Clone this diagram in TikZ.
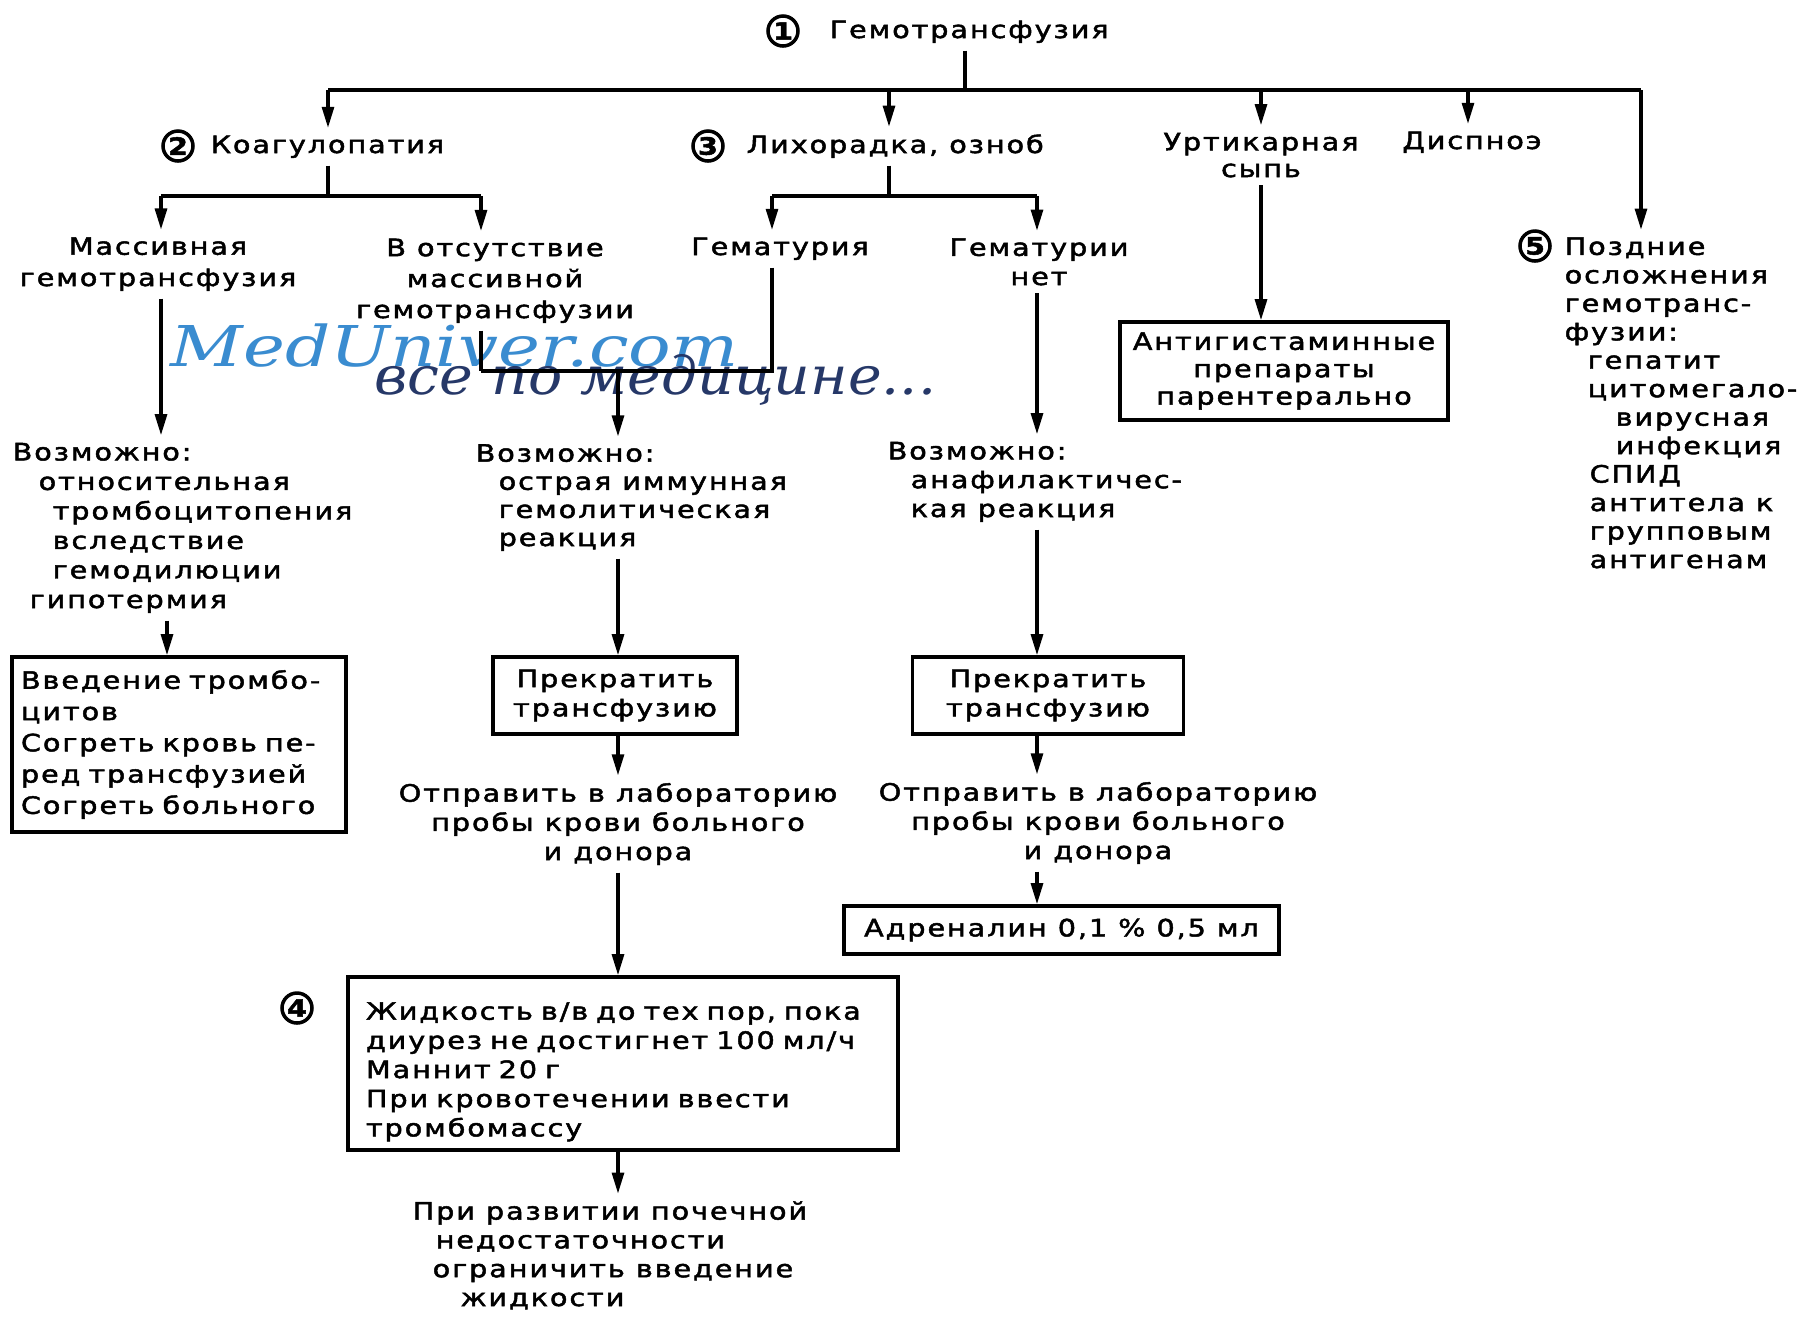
\documentclass[tikz,border=0pt]{standalone}
\usepackage{fontspec}
\usetikzlibrary{arrows.meta}
\newfontfamily\flowfont{DejaVu Sans}[FakeStretch=1.2,LetterSpace=8,FakeBold=2]
\newfontfamily\markfont{DejaVu Serif}[FakeStretch=1.26]
\newfontfamily\mottofont{DejaVu Serif}[FakeStretch=1.08]
\definecolor{markblue}{RGB}{58,140,208}
\definecolor{marknavy}{RGB}{38,56,104}
\begin{document}
\begin{tikzpicture}[
                every node/.style={font=\flowfont\fontsize{6.8}{8.3}\selectfont, inner xsep=0pt, inner ysep=2pt},
                leading/.style={font=\flowfont\fontsize{6.8}{#1}\selectfont},
                txt/.style={align=left, anchor=base west},
                ctr/.style={align=center, anchor=base},
                box/.style={draw, line width=1pt, inner xsep=3pt},
                num/.style={circle, draw, line width=1pt, inner sep=0pt, minimum size=0.30cm, font=\flowfont\bfseries\fontsize{6.8}{7}\selectfont},
                con/.style={line width=0.9pt},
                arr/.style={con, -{Triangle[length=6pt,width=3.4pt]}}]
                \useasboundingbox (0, 0) rectangle (18.06, -13.18);
                \node [font=\markfont\itshape\fontsize{16}{16}\selectfont, text=markblue, anchor=base west] (site) at (1.70, -3.66) {MedUniver.com};
                \node [font=\mottofont\itshape\fontsize{15}{15}\selectfont, text=marknavy, anchor=base west] (motto) at (3.74, -3.94) {все по медицине...};
                \node [num] (n1) at (7.83, -0.31) {1};
                \node [txt] (title) at (8.29, -0.38) {Гемотрансфузия};
                \node [num] (n2) at (1.78, -1.46) {2};
                \node [txt] (koag) at (2.10, -1.53) {Коагулопатия};
                \node [num] (n3) at (7.08, -1.46) {3};
                \node [txt] (fever) at (7.46, -1.53) {Лихорадка, озноб};
                \node [ctr, leading=7.6pt] (urt) at (12.61, -1.77) {Уртикарная\\сыпь};
                \node [ctr] (dysp) at (14.72, -1.49) {Диспноэ};
                \node [num] (n5) at (15.35, -2.46) {5};
                \node [txt, leading=8.1pt] (late) at (15.64, -5.68) {Поздние\\осложнения\\гемотранс-\\фузии:\\\hspace*{0.23cm}гепатит\\\hspace*{0.23cm}цитомегало-\\\hspace*{0.51cm}вирусная\\\hspace*{0.51cm}инфекция\\\hspace*{0.25cm}СПИД\\\hspace*{0.25cm}антитела к\\\hspace*{0.25cm}групповым\\\hspace*{0.25cm}антигенам};
                \node [ctr, leading=8.9pt] (mass) at (1.58, -2.86) {Массивная\\гемотрансфузия};
                \node [ctr, leading=8.8pt] (nomass) at (4.95, -3.18) {В отсутствие\\массивной\\гемотрансфузии};
                \node [ctr] (hemat) at (7.80, -2.55) {Гематурия};
                \node [ctr] (nohemat) at (10.39, -2.85) {Гематурии\\нет};
                \node [box, minimum width=3.28cm, minimum height=0.98cm, align=center, leading=7.8pt] (antih) at (12.84, -3.71) {Антигистаминные\\препараты\\парентерально};
                \node [txt, leading=8.4pt] (maybe1) at (0.12, -6.08) {Возможно:\\\hspace*{0.26cm}относительная\\\hspace*{0.40cm}тромбоцитопения\\\hspace*{0.40cm}вследствие\\\hspace*{0.40cm}гемодилюции\\\hspace*{0.17cm}гипотермия};
                \node [txt, leading=8pt] (maybe2) at (4.75, -5.46) {Возможно:\\\hspace*{0.23cm}острая иммунная\\\hspace*{0.23cm}гемолитическая\\\hspace*{0.23cm}реакция};
                \node [txt, leading=8.2pt] (maybe3) at (8.87, -5.17) {Возможно:\\\hspace*{0.23cm}анафилактичес-\\\hspace*{0.23cm}кая реакция};
                \node [box, minimum width=3.34cm, minimum height=1.75cm, inner xsep=0.09cm, text width=3.16cm, align=left, leading=8.9pt] (platelets) at (1.79, -7.445) {Введение тромбо-\\цитов\\Согреть кровь пе-\\ред трансфузией\\Согреть больного};
                \node [box, minimum width=2.44cm, minimum height=0.77cm, align=center] (stop2) at (6.15, -6.955) {Прекратить\\трансфузию};
                \node [box, minimum width=2.71cm, minimum height=0.77cm, align=center] (stop3) at (10.48, -6.955) {Прекратить\\трансфузию};
                \node [ctr] (lab2) at (6.18, -8.60) {Отправить в лабораторию\\пробы крови больного\\и донора};
                \node [ctr] (lab3) at (10.98, -8.59) {Отправить в лабораторию\\пробы крови больного\\и донора};
                \node [box, minimum width=4.35cm, minimum height=0.48cm] (adren) at (10.615, -9.30) {Адреналин 0,1 \% 0,5 мл};
                \node [num] (n4) at (2.97, -10.08) {4};
                \node [box, minimum width=5.50cm, minimum height=1.73cm, inner xsep=0.18cm, text width=5.14cm, align=left] (fluid) at (6.23, -10.635) {\rule{0pt}{0.34cm}Жидкость в/в до тех пор, пока\\диурез не достигнет 100 мл/ч\\Маннит 20 г\\При кровотечении ввести\\тромбомассу};
                \node [txt, leading=8.2pt] (renal) at (4.12, -13.06) {При развитии почечной\\\hspace*{0.23cm}недостаточности\\\hspace*{0.20cm}ограничить введение\\\hspace*{0.48cm}жидкости};
                \coordinate (top) at (9.65, -0.90);
                \coordinate (bK) at (3.28, -0.90);
                \coordinate (bF) at (8.89, -0.90);
                \coordinate (bU) at (12.61, -0.90);
                \coordinate (bD) at (14.68, -0.90);
                \coordinate (bL) at (16.41, -0.90);
                \coordinate (kJ) at (3.28, -1.96);
                \coordinate (kL) at (1.61, -1.96);
                \coordinate (kR) at (4.81, -1.96);
                \coordinate (fJ) at (8.89, -1.96);
                \coordinate (fL) at (7.72, -1.96);
                \coordinate (fR) at (10.37, -1.96);
                \coordinate (jL) at (4.81, -3.71);
                \coordinate (jR) at (7.72, -3.71);
                \coordinate (jM) at (6.18, -3.71);
                \coordinate (pL) at (1.67, -6.00);
                \draw [con] (title.south -| top) -- (top);
                \draw [con] (bK) -- (bL);
                \draw [arr] (bK) -- (koag.north -| bK);
                \draw [arr] (bF) -- (fever.north -| bF);
                \draw [arr] (bU) -- (urt.north -| bU);
                \draw [arr] (bD) -- (dysp.north -| bD);
                \draw [arr] (bL) -- (late.north -| bL);
                \draw [con] (koag.south -| kJ) -- (kJ);
                \draw [con] (kL) -- (kR);
                \draw [arr] (kL) -- (mass.north -| kL);
                \draw [arr] (kR) -- (nomass.north -| kR);
                \draw [con] (fever.south -| fJ) -- (fJ);
                \draw [con] (fL) -- (fR);
                \draw [arr] (fL) -- (hemat.north -| fL);
                \draw [arr] (fR) -- (nohemat.north -| fR);
                \draw [con] (hemat.south -| jR) -- (jR) -- (jL);
                \draw [con] (nomass.south -| jL) -- (jL);
                \draw [arr] (jM) -- (maybe2.north -| jM);
                \draw [arr] (urt.south -| bU) -- (antih.north -| bU);
                \draw [arr] (mass.south -| kL) -- (maybe1.north -| kL);
                \draw [arr] (maybe1.south -| pL) -- (platelets.north -| pL);
                \draw [arr] (maybe2.south -| jM) -- (stop2.north -| jM);
                \draw [arr] (stop2.south -| jM) -- (lab2.north -| jM);
                \draw [arr] (lab2.south -| jM) -- (fluid.north -| jM);
                \draw [arr] (fluid.south -| jM) -- (renal.north -| jM);
                \draw [arr] (nohemat.south -| fR) -- (maybe3.north -| fR);
                \draw [arr] (maybe3.south -| fR) -- (stop3.north -| fR);
                \draw [arr] (stop3.south -| fR) -- (lab3.north -| fR);
                \draw [arr] (lab3.south -| fR) -- (adren.north -| fR);
\end{tikzpicture}
\end{document}
